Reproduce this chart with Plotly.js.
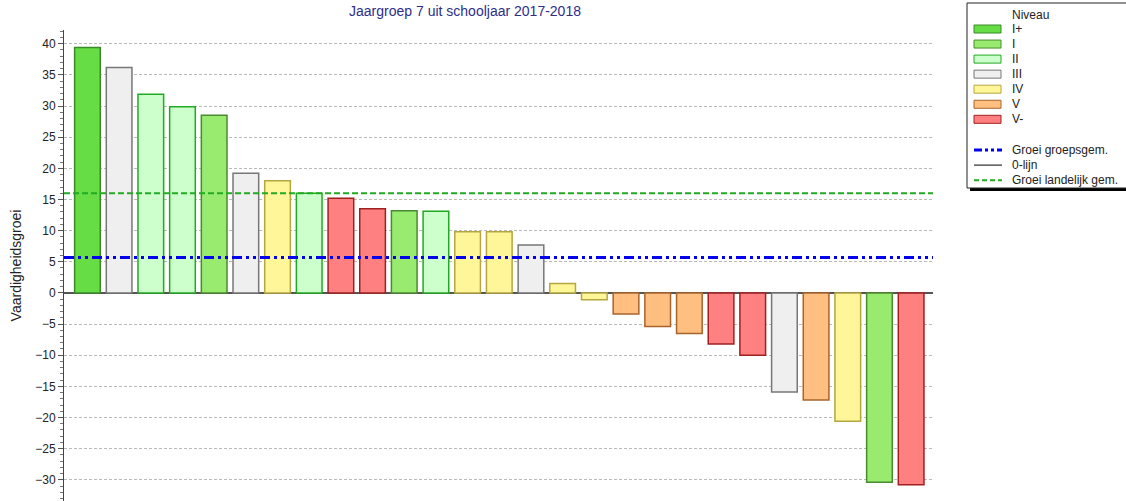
<!DOCTYPE html>
<html>
<head>
<meta charset="utf-8">
<script src="https://cdn.plot.ly/plotly-3.0.1.min.js"></script>
<style>html,body{margin:0;padding:0;background:#fff;}#chart{width:1126px;height:501px;}</style>
</head>
<body>
<div id="chart"></div>
<script>
// ---- data ----
const values = [39.4, 36.2, 31.9, 29.9, 28.5, 19.2, 18.0, 16.0, 15.2, 13.5, 13.2, 13.1, 9.8, 9.8, 7.7, 1.5,
                -1.1, -3.4, -5.4, -6.5, -8.2, -10.0, -15.9, -17.2, -20.6, -30.4, -30.8];
const levels = ["I+", "III", "II", "II", "I", "III", "IV", "II", "V-", "V-", "I", "II", "IV", "IV", "III", "IV",
                "IV", "V", "V", "V", "V-", "V-", "III", "V", "IV", "I", "V-"];
const levelNames = ["I+", "I", "II", "III", "IV", "V", "V-"];
const groepsGem = 5.7;
const landelijkGem = 16.0;
const zeroLine = 0;
const titleText = "Jaargroep 7 uit schooljaar 2017-2018";
const yTitle = "Vaardigheidsgroei";
const legendTitle = "Niveau";
const lineLabels = ["Groei groepsgem.", "0-lijn", "Groei landelijk gem."];

// ---- styles ----
const fillColors = {"I+":"#66DD44","I":"#98EB6E","II":"#CCFFCC","III":"#EFEFEF","IV":"#FFF599","V":"#FFBF80","V-":"#FF8080"};
const lineColors = {"I+":"#3A8A2A","I":"#4A8A30","II":"#22AA22","III":"#777777","IV":"#B5A640","V":"#A8642C","V-":"#A02020"};
const blueDash = "10px,4px,3px,4px,3px,4px";
const greenDash = "6px,3px";

const W = 1126, H = 501, ML = 64, MR = 193, MT = 30, MB = 0;
const PW = W - ML - MR, PH = H - MT - MB;
const xp = px => (px - ML) / PW;
const yp = py => (H - MB - py) / PH;

const xs = values.map((v, i) => i);
const trace = {
  type: "bar",
  x: xs,
  y: values,
  width: 0.81,
  marker: {
    color: levels.map(l => fillColors[l]),
    line: {color: levels.map(l => lineColors[l]), width: 1.5}
  },
  hoverinfo: "y",
  showlegend: false
};

const shapes = [
  // groepsgemiddelde
  {type:"line", xref:"paper", yref:"y", x0:0, x1:1, y0:groepsGem, y1:groepsGem, layer:"above",
   line:{color:"#0000EE", width:3, dash:blueDash}},
  // landelijk gemiddelde
  {type:"line", xref:"paper", yref:"y", x0:0, x1:1, y0:landelijkGem, y1:landelijkGem, layer:"above",
   line:{color:"#22AA22", width:2, dash:greenDash}},
];
const annotations = [];

// ---- manual legend box ----
const boxL = 967, boxT = 3, boxR = 1140, boxB = 188;
shapes.push({type:"rect", xref:"paper", yref:"paper", x0:xp(boxL+3), x1:xp(boxR+3), y0:yp(boxB+3), y1:yp(boxT+3),
  fillcolor:"#000000", line:{width:0}, layer:"above"});
shapes.push({type:"rect", xref:"paper", yref:"paper", x0:xp(boxL), x1:xp(boxR), y0:yp(boxB), y1:yp(boxT),
  fillcolor:"#FFFFFF", line:{color:"#222222", width:1}, layer:"above"});
const legFont = {family:"Liberation Sans, Arial, sans-serif", size:12, color:"#222"};
annotations.push({xref:"paper", yref:"paper", x:xp(1010), y:yp(15), text:legendTitle, showarrow:false,
  xanchor:"left", yanchor:"middle", font:legFont});
levelNames.forEach((l, k) => {
  const cy = 29 + k * 15.05;
  shapes.push({type:"rect", xref:"paper", yref:"paper", x0:xp(974), x1:xp(1001), y0:yp(cy+4), y1:yp(cy-4),
    fillcolor:fillColors[l], line:{color:lineColors[l], width:1}, layer:"above"});
  annotations.push({xref:"paper", yref:"paper", x:xp(1010), y:yp(cy), text:l, showarrow:false,
    xanchor:"left", yanchor:"middle", font:legFont});
});
const lineStyles = [
  {color:"#0000EE", width:3, dash:"8px,3px,3px,3px,3px,3px"},
  {color:"#000000", width:1, dash:"solid"},
  {color:"#22AA22", width:2, dash:"5px,3px"}
];
lineLabels.forEach((t, k) => {
  const cy = 150 + k * 15.1;
  shapes.push({type:"line", xref:"paper", yref:"paper", x0:xp(974), x1:xp(1002), y0:yp(cy), y1:yp(cy),
    line:lineStyles[k], layer:"above"});
  annotations.push({xref:"paper", yref:"paper", x:xp(1010), y:yp(cy), text:t, showarrow:false,
    xanchor:"left", yanchor:"middle", font:legFont});
});

const layout = {
  width: W, height: H,
  margin: {l:ML, r:MR, t:MT, b:MB, pad:0},
  paper_bgcolor: "#FFFFFF",
  plot_bgcolor: "#FFFFFF",
  font: {family:"Liberation Sans, Arial, sans-serif", size:12, color:"#222"},
  title: {text:titleText, x:465/W, xref:"container", xanchor:"center", y:1-11/H, yref:"container", yanchor:"middle",
          font:{family:"Liberation Sans, Arial, sans-serif", size:14, color:"#2E2E8A"}},
  barmode: "overlay",
  bargap: 0,
  showlegend: false,
  xaxis: {range:[-0.74, 26.69], visible:false, fixedrange:true},
  yaxis: {
    range:[-33.4, 42.2], dtick:5, tick0:0,
    showline:true, linecolor:"#444", linewidth:1,
    ticks:"outside", ticklen:5, tickcolor:"#555", tickwidth:1,
    tickfont:{size:12, color:"#222"},
    showgrid:true, gridcolor:"#BBBBBB", gridwidth:1, griddash:"3px,2px",
    zeroline:true, zerolinecolor:"#555", zerolinewidth:2,
    minor:{dtick:1, ticks:"outside", ticklen:3, tickcolor:"#777", showgrid:false},
    title:{text:yTitle, standoff:10, font:{size:14, color:"#222"}},
    fixedrange:true
  },
  shapes: shapes,
  annotations: annotations
};

Plotly.newPlot("chart", [trace], layout, {displayModeBar:false, staticPlot:true});
</script>
</body>
</html>
